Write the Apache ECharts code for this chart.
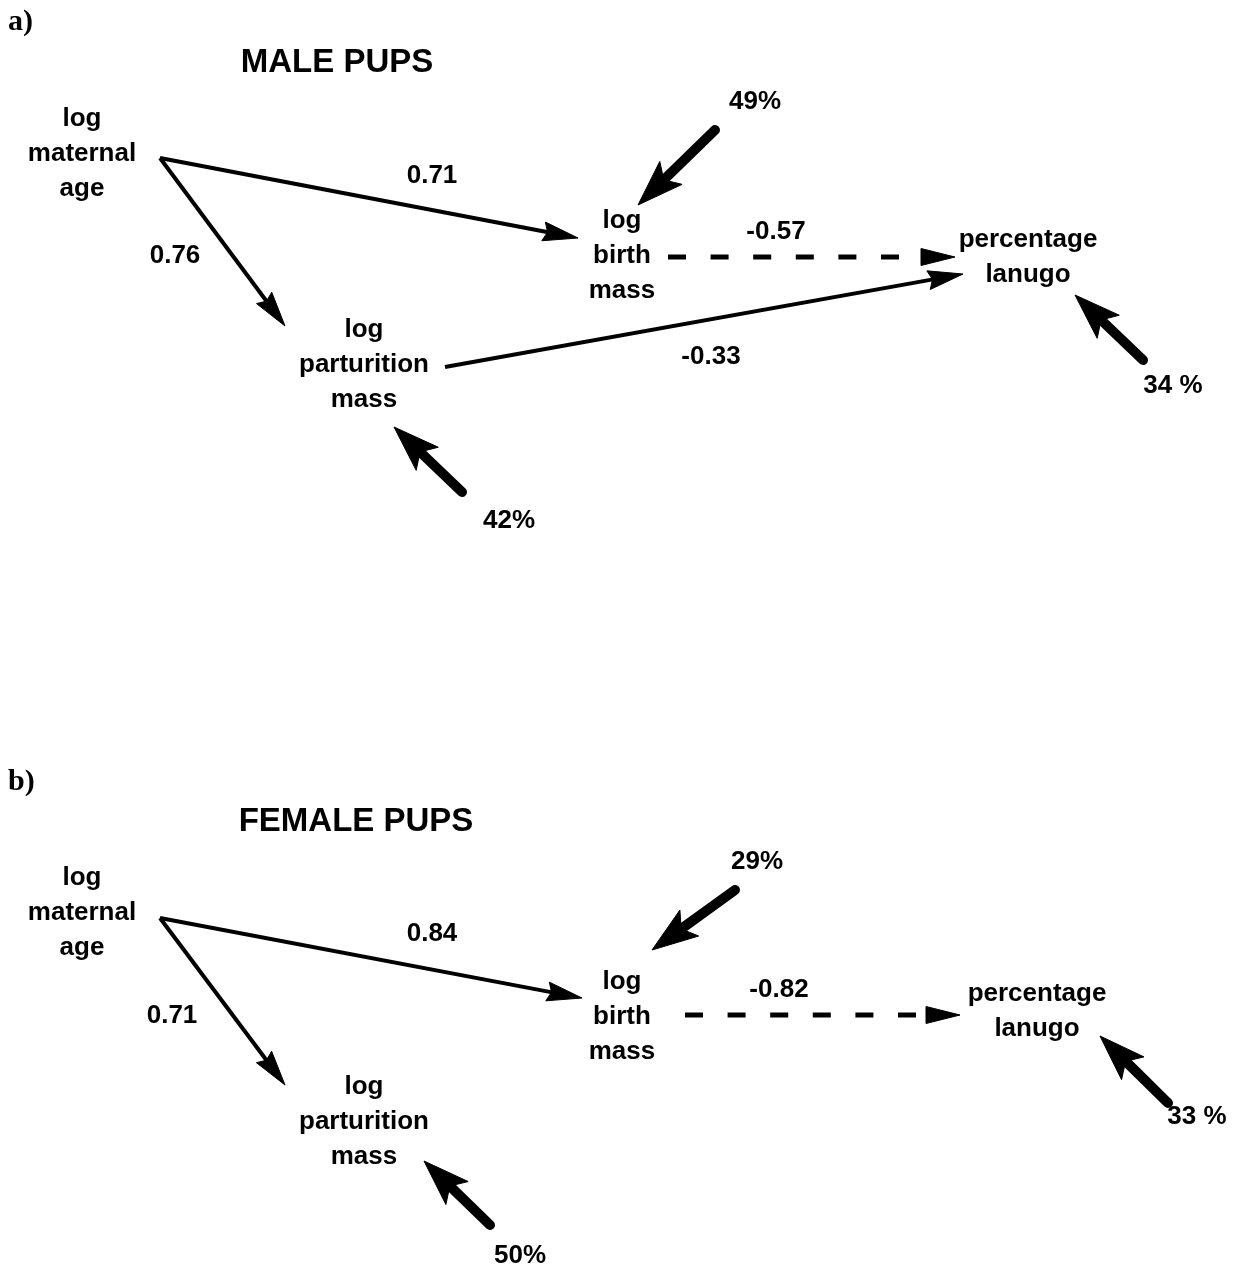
<!DOCTYPE html>
<html>
<head>
<meta charset="utf-8">
<script src="https://cdn.jsdelivr.net/npm/echarts@6/dist/echarts.min.js"></script>
<style>
html,body{margin:0;padding:0;background:#fff;}
#c{width:1249px;height:1273px;}
</style>
</head>
<body>
<div id="c"></div>
<script>
// ---------- data ----------
const panelLetters = ['a)', 'b)'];
const panelTitles = ['MALE PUPS', 'FEMALE PUPS'];
const nodeLabels = ['log\nmaternal\nage', 'log\nbirth\nmass', 'log\nparturition\nmass', 'percentage\nlanugo'];
// path coefficients: maternal->birth, maternal->parturition, birth->lanugo, parturition->lanugo
const coefMale = [0.71, 0.76, -0.57, -0.33];
const coefFemale = [0.84, 0.71, -0.82, null];
// unexplained variance (%): birth mass, parturition mass, percentage lanugo
const residMale = [49, 42, 34];
const residFemale = [29, 50, 33];

// ---------- layout (pixel-space positions on the hidden axes) ----------
const layouts = [
  {
    letter: [20, 22], title: [337, 63],
    nodes: [[82, 154], [622, 256], [364, 365], [1028, 257]],
    edges: [
      {from: [160, 158], to: [578, 238], lab: [432, 176]},
      {from: [160, 158], to: [285, 326], lab: [175, 256]},
      {from: [668, 257], to: [955, 257], lab: [776, 232], dash: true},
      {from: [445, 367], to: [963, 274], lab: [711, 357]}
    ],
    resid: [
      {from: [715, 130], to: [638, 205], lab: [755, 102]},
      {from: [462, 492], to: [394, 427], lab: [509, 521]},
      {from: [1143, 360], to: [1075, 295], lab: [1173, 386], spaced: true}
    ]
  },
  {
    letter: [20, 782], title: [356, 822],
    nodes: [[82, 913], [622, 1017], [364, 1122], [1037, 1011]],
    edges: [
      {from: [160, 918], to: [582, 998], lab: [432, 934]},
      {from: [160, 918], to: [285, 1085], lab: [172, 1016]},
      {from: [685, 1015], to: [960, 1015], lab: [779, 990], dash: true},
      null
    ],
    resid: [
      {from: [735, 890], to: [652, 950], lab: [757, 862]},
      {from: [490, 1225], to: [424, 1161], lab: [520, 1256]},
      {from: [1168, 1103], to: [1100, 1036], lab: [1197, 1117], spaced: true}
    ]
  }
];

const coefs = [coefMale, coefFemale];
const resids = [residMale, residFemale];

const SANS = "'Liberation Sans', Arial, Helvetica, sans-serif";
const SERIF = "'Liberation Serif', 'Times New Roman', serif";

// ---------- build items ----------
const texts = [];
const arrows = [];
layouts.forEach((L, p) => {
  texts.push({pos: L.letter, text: panelLetters[p], font: 'bold 30px ' + SERIF, align: 'left', dx: -12});
  texts.push({pos: L.title, text: panelTitles[p], font: 'bold 33px ' + SANS});
  nodeLabels.forEach((t, i) => texts.push({pos: L.nodes[i], text: t, font: 'bold 26px ' + SANS, lh: 35}));
  coefs[p].forEach((v, i) => {
    const e = L.edges[i];
    if (v === null || !e) return;
    arrows.push({from: e.from, to: e.to, kind: e.dash ? 'dash' : 'path'});
    texts.push({pos: e.lab, text: v.toFixed(2), font: 'bold 26px ' + SANS});
  });
  resids[p].forEach((v, i) => {
    const r = L.resid[i];
    arrows.push({from: r.from, to: r.to, kind: 'resid'});
    texts.push({pos: r.lab, text: v + (r.spaced ? ' %' : '%'), font: 'bold 26px ' + SANS});
  });
});

const styles = {
  path: {lw: 4, hl: 35, hw: 9.5, notch: 4, dash: null, cap: 'butt'},
  dash: {lw: 5, hl: 34, hw: 8.5, notch: 0, dash: [18, 24.6], cap: 'butt'},
  resid: {lw: 10, hl: 46, hw: 16, notch: 10, dash: null, cap: 'round'}
};

function renderArrow(params, api) {
  const a = arrows[api.value(4)];
  const s = styles[a.kind];
  const p1 = api.coord([api.value(0), api.value(1)]);
  const p2 = api.coord([api.value(2), api.value(3)]);
  const dx = p2[0] - p1[0], dy = p2[1] - p1[1];
  const len = Math.hypot(dx, dy);
  const ux = dx / len, uy = dy / len, px = -uy, py = ux;
  const bx = p2[0] - ux * s.hl, by = p2[1] - uy * s.hl;
  const nx = p2[0] - ux * (s.hl - s.notch), ny = p2[1] - uy * (s.hl - s.notch);
  let endx, endy;
  if (s.dash) {
    const period = s.dash[0] + s.dash[1];
    const shaft = len - s.hl;
    const n = Math.floor((shaft + s.dash[1]) / period);
    const l = n * period - s.dash[1];
    endx = p1[0] + ux * l; endy = p1[1] + uy * l;
  } else {
    endx = nx + ux * 2; endy = ny + uy * 2;
  }
  return {
    type: 'group',
    children: [
      {
        type: 'line',
        shape: {x1: p1[0], y1: p1[1], x2: endx, y2: endy},
        style: {stroke: '#000', lineWidth: s.lw, lineDash: s.dash, lineCap: s.cap, fill: null}
      },
      {
        type: 'polygon',
        shape: {points: [[p2[0], p2[1]], [bx + px * s.hw, by + py * s.hw], [nx, ny], [bx - px * s.hw, by - py * s.hw]]},
        style: {fill: '#000', stroke: '#000', lineWidth: 1, lineJoin: 'miter'}
      }
    ]
  };
}

function renderText(params, api) {
  const t = texts[api.value(2)];
  const c = api.coord([api.value(0), api.value(1)]);
  return {
    type: 'text',
    x: c[0] + (t.dx || 0),
    y: c[1],
    style: {
      text: t.text,
      fill: '#000',
      font: t.font,
      align: t.align || 'center',
      verticalAlign: 'middle',
      textAlign: t.align || 'center',
      textVerticalAlign: 'middle',
      lineHeight: t.lh || undefined
    }
  };
}

const chart = echarts.init(document.getElementById('c'), null, {renderer: 'canvas'});
chart.setOption({
  backgroundColor: '#fff',
  animation: false,
  grid: {left: 0, right: 0, top: 0, bottom: 0},
  xAxis: {type: 'value', min: 0, max: 1249, show: false},
  yAxis: {type: 'value', min: 0, max: 1273, inverse: true, show: false},
  series: [
    {
      type: 'custom',
      clip: false,
      silent: true,
      renderItem: renderArrow,
      encode: {x: [0, 2], y: [1, 3]},
      data: arrows.map((a, i) => [a.from[0], a.from[1], a.to[0], a.to[1], i])
    },
    {
      type: 'custom',
      clip: false,
      silent: true,
      renderItem: renderText,
      encode: {x: 0, y: 1},
      data: texts.map((t, i) => [t.pos[0], t.pos[1], i])
    }
  ]
});
</script>
</body>
</html>
